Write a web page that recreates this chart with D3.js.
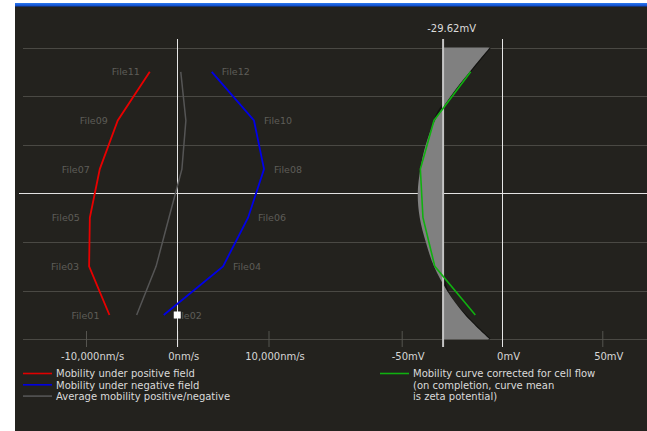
<!DOCTYPE html>
<html>
<head>
<meta charset="utf-8">
<script src="https://cdn.jsdelivr.net/npm/d3@7"></script>
<style>
  html, body { margin: 0; padding: 0; background: #ffffff; }
  svg { display: block; }
  text { font-family: "DejaVu Sans", Verdana, sans-serif; }
</style>
</head>
<body>
<svg id="chart" width="647" height="431"></svg>
<script>
// Mobility measurements, one row per file pair (top to bottom)
const leftFiles  = ["File11", "File09", "File07", "File05", "File03", "File01"];
const rightFiles = ["File12", "File10", "File08", "File06", "File04", "File02"];
const positiveField   = [-3010, -6520, -8490, -9580, -9660, -7430];   // nm/s
const negativeField   = [3780, 8410, 9510, 7760, 5020, -1480];        // nm/s
const averageMobility = [385, 945, 510, -910, -2320, -4450];          // nm/s

// Mobility corrected for cell flow, mV
const correctedMobility = [-15.6, -33.9, -40.7, -39.4, -33.5, -13.3];
// Fitted cell-flow curve, sampled at every half row (0 = top edge, 6 = bottom edge)
const fitPositions = [0, 0.5, 1, 1.5, 2, 2.5, 3, 3.5, 4, 4.5, 5, 5.5, 6];
const fitCurve     = [-6.1, -16.1, -25.6, -33.4, -38.0, -40.7, -42.0, -41.0, -38.0, -33.9, -27.4, -18.4, -6.1];
const zetaPotential = -29.62;

// Axis ticks
const mobilityTicks = [-10000, 0, 10000];
const mobilityTickLabels = ["-10,000nm/s", "0nm/s", "10,000nm/s"];
const zetaTicks = [-50, 0, 50];
const zetaTickLabels = ["-50mV", "0mV", "50mV"];

// Legends
const leftLegendLabels = ["Mobility under positive field", "Mobility under negative field", "Average mobility positive/negative"];
const leftLegendColors = ["#e00000", "#0000e0", "#555555"];
const rightLegendLines = ["Mobility curve corrected for cell flow", "(on completion, curve mean", "is zeta potential)"];

const FONT = 10;
const svg = d3.select("#chart");

// Title strip and dark panel
const defs = svg.append("defs");
const grad = defs.append("linearGradient").attr("id", "strip").attr("x1", 0).attr("x2", 0).attr("y1", 0).attr("y2", 1);
grad.append("stop").attr("offset", "0%").attr("stop-color", "#2a78f0");
grad.append("stop").attr("offset", "100%").attr("stop-color", "#0a44c4");
svg.append("rect").attr("x", 15).attr("y", 6).attr("width", 632).attr("height", 425).attr("fill", "#23221e");
svg.append("rect").attr("x", 15).attr("y", 3).attr("width", 632).attr("height", 3.5).attr("fill", "url(#strip)");

// Scales
const y = d3.scaleLinear().domain([0, 6]).range([47.5, 339.3]);
const xL = d3.scaleLinear().domain([-10000, 10000]).range([86, 268.5]);
const xR = d3.scaleLinear().domain([-50, 50]).range([401.7, 602.3]);
const rowY = i => y(i + 0.5);

// Horizontal grid
const gridRows = d3.range(0, 7);
svg.append("g").selectAll("line").data(gridRows.filter(r => r !== 3)).join("line")
  .attr("x1", 23).attr("x2", 647)
  .attr("y1", d => Math.round(y(d)) + 0.5).attr("y2", d => Math.round(y(d)) + 0.5)
  .attr("stroke", "#4a4944").attr("stroke-width", 1);
svg.append("line")
  .attr("x1", 19).attr("x2", 647)
  .attr("y1", Math.round(y(3)) + 0.5).attr("y2", Math.round(y(3)) + 0.5)
  .attr("stroke", "#e2e2e2").attr("stroke-width", 1);

// Bottom axes
function drawAxis(scale, ticks, labels) {
  const g = svg.append("g").attr("transform", "translate(0,331)")
    .call(d3.axisBottom(scale).tickValues(ticks).tickSize(16).tickFormat((d, i) => labels[i]));
  g.select(".domain").remove();
  g.selectAll(".tick line").attr("stroke", "#55544f");
  g.selectAll(".tick text")
    .attr("fill", "#d6d6d6").attr("font-size", FONT)
    .attr("y", 29).attr("dy", 0).attr("dx", 6)
    .style("font-family", "'DejaVu Sans', Verdana, sans-serif");
}
drawAxis(xL, mobilityTicks, mobilityTickLabels);
drawAxis(xR, zetaTicks, zetaTickLabels);

// Zero lines
svg.append("line").attr("x1", Math.round(xL(0)) + 0.5).attr("x2", Math.round(xL(0)) + 0.5)
  .attr("y1", 39).attr("y2", 347).attr("stroke", "#e6e6e6").attr("stroke-width", 1);
svg.append("line").attr("x1", Math.round(xR(0)) + 0.5).attr("x2", Math.round(xR(0)) + 0.5)
  .attr("y1", 39).attr("y2", 347).attr("stroke", "#e6e6e6").attr("stroke-width", 1);

// Fitted curve area between the mean (zeta) line and the curve
const fitData = fitPositions.map((p, i) => ({ p, v: fitCurve[i] }));
svg.append("path").datum(fitData.filter(d => d.v > zetaPotential - 4))
  .attr("d", d3.line().y(d => y(d.p)).x(d => xR(d.v)).curve(d3.curveCatmullRom))
  .attr("fill", "none").attr("stroke", "#121210").attr("stroke-width", 2.2);
svg.append("path").datum(fitData)
  .attr("d", d3.area().y(d => y(d.p)).x0(xR(zetaPotential)).x1(d => xR(d.v)).curve(d3.curveCatmullRom))
  .attr("fill", "#808080");

// Zeta potential line and label
svg.append("line").attr("x1", xR(zetaPotential) + 0.5).attr("x2", xR(zetaPotential) + 0.5)
  .attr("y1", 39).attr("y2", 347).attr("stroke", "#c4c4c4").attr("stroke-width", 2);
svg.append("text").attr("x", xR(zetaPotential) + 9).attr("y", 32)
  .attr("text-anchor", "middle").attr("fill", "#dcdcdc").attr("font-size", FONT)
  .text(zetaPotential.toFixed(2) + "mV");

// Corrected mobility curve
svg.append("path").datum(correctedMobility)
  .attr("d", d3.line().x(d => xR(d)).y((d, i) => rowY(i)))
  .attr("fill", "none").attr("stroke", "#10b010").attr("stroke-width", 1.6);

// File labels
svg.append("g").selectAll("text").data(leftFiles).join("text")
  .attr("x", (d, i) => xL(positiveField[i]) - 10).attr("y", (d, i) => rowY(i) + 3.6)
  .attr("text-anchor", "end").attr("fill", "#5e5d58").attr("font-size", 9.5).text(d => d);
svg.append("g").selectAll("text").data(rightFiles).join("text")
  .attr("x", (d, i) => xL(negativeField[i]) + 10).attr("y", (d, i) => rowY(i) + 3.6)
  .attr("text-anchor", "start").attr("fill", "#5e5d58").attr("font-size", 9.5).text(d => d);

// Mobility lines
const mobLine = d3.line().x(d => xL(d)).y((d, i) => rowY(i));
svg.append("path").datum(averageMobility).attr("d", mobLine)
  .attr("fill", "none").attr("stroke", "#555555").attr("stroke-width", 1.5);
svg.append("path").datum(positiveField).attr("d", mobLine)
  .attr("fill", "none").attr("stroke", "#e80000").attr("stroke-width", 1.8);
svg.append("path").datum(negativeField).attr("d", mobLine)
  .attr("fill", "none").attr("stroke", "#0000e8").attr("stroke-width", 1.8);

// Current position marker
svg.append("rect").attr("x", xL(0) - 3.5).attr("y", rowY(5) - 3.5)
  .attr("width", 7).attr("height", 7).attr("fill", "#ffffff");

// Left legend
const legL = svg.append("g");
leftLegendLabels.forEach((t, i) => {
  const yy = 373.5 + i * 11.3;
  legL.append("line").attr("x1", 23).attr("x2", 52).attr("y1", yy).attr("y2", yy)
    .attr("stroke", leftLegendColors[i]).attr("stroke-width", 1.6);
  legL.append("text").attr("x", 56).attr("y", yy + 3.7).attr("fill", "#dadada")
    .attr("font-size", FONT).text(t);
});

// Right legend
const legR = svg.append("g");
legR.append("line").attr("x1", 380).attr("x2", 409).attr("y1", 373.5).attr("y2", 373.5)
  .attr("stroke", "#10b010").attr("stroke-width", 1.6);
rightLegendLines.forEach((t, i) => {
  legR.append("text").attr("x", 413).attr("y", 377.2 + i * 11.3).attr("fill", "#dadada")
    .attr("font-size", FONT).text(t);
});
</script>
</body>
</html>
